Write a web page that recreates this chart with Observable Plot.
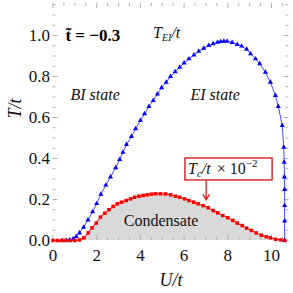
<!DOCTYPE html>
<html><head><meta charset="utf-8">
<script src="https://cdn.jsdelivr.net/npm/d3@7"></script>
<script src="https://cdn.jsdelivr.net/npm/@observablehq/plot@0.6"></script>
<style>
body{margin:0;background:#fff}
svg{display:block}
svg text{font-family:"Liberation Serif","Times New Roman",serif !important}
</style>
</head><body><div id="chart"></div>
<script>
// T_EI/t (blue triangles)
const eiU = [0.4,0.6,0.76,0.92,1.06,1.21,1.4,1.6,1.81,2.0,2.19,2.42,2.63,2.87,3.05,3.2,3.36,3.59,3.78,4.0,4.19,4.39,4.59,4.78,4.97,5.18,5.38,5.59,5.8,6.0,6.22,6.45,6.67,6.9,7.13,7.33,7.53,7.67,7.82,7.97,8.2,8.43,8.63,8.86,9.04,9.27,9.46,9.72,9.95,10.18,10.31,10.49,10.56,10.58,10.59,10.6,10.6,10.6,10.6];
const eiT = [0,0,0.003,0.008,0.02,0.037,0.065,0.10,0.14,0.18,0.226,0.27,0.31,0.355,0.395,0.43,0.468,0.507,0.545,0.585,0.618,0.654,0.683,0.714,0.745,0.772,0.80,0.823,0.845,0.866,0.886,0.905,0.923,0.938,0.951,0.96,0.967,0.97,0.972,0.972,0.966,0.956,0.948,0.933,0.911,0.886,0.862,0.821,0.772,0.707,0.654,0.561,0.455,0.382,0.31,0.249,0.17,0.095,0];
// T_c/t x 1e-2 (red squares)
const tcU = [0,0.2,0.4,0.6,0.8,1.0,1.21,1.41,1.61,1.79,1.98,2.17,2.37,2.56,2.75,2.94,3.14,3.35,3.55,3.73,3.93,4.13,4.31,4.5,4.69,4.92,5.15,5.38,5.6,5.8,6.02,6.22,6.44,6.64,6.87,7.1,7.33,7.54,7.77,8.0,8.23,8.43,8.66,8.86,9.08,9.3,9.53,9.76,9.95,10.18,10.41,10.6];
const tcT = [0,0,0,0,0,0,0.003,0.013,0.037,0.062,0.085,0.114,0.133,0.15,0.166,0.179,0.187,0.195,0.203,0.211,0.216,0.22,0.223,0.226,0.228,0.228,0.227,0.223,0.216,0.211,0.203,0.195,0.187,0.179,0.17,0.16,0.146,0.135,0.122,0.111,0.098,0.085,0.073,0.06,0.049,0.037,0.026,0.018,0.013,0.006,0.003,0];
const xTicks = [0,2,4,6,8,10];
const yTicks = [0,0.2,0.4,0.6,0.8,1.0];
const xMinor = d3.range(0, 10.8, 0.5).filter(v => !xTicks.includes(v));
const yMinor = d3.range(0, 1.16, 0.05).map(v => +v.toFixed(2)).filter(v => !yTicks.includes(v));

const ei = eiU.map((u,i) => ({U:u, T:eiT[i]}));
const tc = tcU.map((u,i) => ({U:u, T:tcT[i]}));

const W = 293, H = 293, mL = 52.5, mR = 4.5, mT = 3, mB = 53;
const pw = W - mL - mR, ph = H - mT - mB;
const FONT = '"Liberation Serif", "Times New Roman", serif';
const tickC = "#b0b0b0";

const plot = Plot.plot({
  width: W, height: H,
  marginLeft: mL, marginRight: mR, marginTop: mT, marginBottom: mB,
  style: {fontFamily: FONT, background: "#fff", color: "#111"},
  x: {domain: [0, 10.8]},
  y: {domain: [0, 1.156]},
  marks: [
    Plot.areaY(tc, {x: "U", y: "T", fill: "#d9d9d9"}),
    Plot.ruleX(xTicks, {x: d => d, stroke: tickC, insetTop: ph - 5}),
    Plot.ruleX(xMinor, {x: d => d, stroke: tickC, insetTop: ph - 3}),
    Plot.ruleX(xTicks, {x: d => d, stroke: tickC, insetBottom: ph - 5}),
    Plot.ruleX(xMinor, {x: d => d, stroke: tickC, insetBottom: ph - 3}),
    Plot.ruleY(yTicks, {y: d => d, stroke: tickC, insetRight: pw - 5}),
    Plot.ruleY(yMinor, {y: d => d, stroke: tickC, insetRight: pw - 3}),
    Plot.ruleY(yTicks, {y: d => d, stroke: tickC, insetLeft: pw - 5}),
    Plot.ruleY(yMinor, {y: d => d, stroke: tickC, insetLeft: pw - 3}),
    Plot.axisX({ticks: xTicks, tickSize: 0, tickPadding: 8, fontSize: 17, tickFormat: d => String(d), label: null}),
    Plot.axisY({ticks: yTicks, tickSize: 0, tickPadding: 3, fontSize: 17, tickFormat: d3.format(".1f"), label: null}),
    Plot.line(ei, {x: "U", y: "T", stroke: "#4a4aff", strokeWidth: 1}),
    Plot.dot(ei, {x: "U", y: "T", symbol: "triangle", r: 1.9, fill: "#0000ff", stroke: "none"}),
    Plot.line(tc, {x: "U", y: "T", stroke: "#ff0000", strokeWidth: 1}),
    Plot.dot(tc, {x: "U", y: "T", symbol: "square", r: 2, fill: "#ff0000", stroke: "none"}),
    Plot.arrow([0], {x1: 7.01, y1: 0.293, x2: 7.01, y2: 0.198, stroke: "#d42020", strokeWidth: 1.3, headLength: 7}),
    Plot.text(["t\u0303 = \u22120.3"], {x: 0.57, y: 0.971, textAnchor: "start", lineAnchor: "bottom", fontSize: 17, fontWeight: "bold", fill: "#000"}),
    Plot.text(["BI state"], {x: 0.8, y: 0.683, textAnchor: "start", lineAnchor: "bottom", fontSize: 16, fontStyle: "italic", fill: "#111"}),
    Plot.text(["EI state"], {x: 6.29, y: 0.683, textAnchor: "start", lineAnchor: "bottom", fontSize: 16, fontStyle: "italic", fill: "#111"}),
    Plot.text(["Condensate"], {x: 3.24, y: 0.073, textAnchor: "start", lineAnchor: "bottom", fontSize: 16, fill: "#111"}),
    Plot.text(["U/t"], {frameAnchor: "bottom", dy: 45, lineAnchor: "bottom", fontSize: 18, fontStyle: "italic", fill: "#111"}),
    Plot.text(["T/t"], {frameAnchor: "left", dx: -32.5, dy: -3.5, rotate: -90, lineAnchor: "bottom", fontSize: 18, fontStyle: "italic", fill: "#111"})
  ]
});

const sx = plot.scale("x"), sy = plot.scale("y");
const svg = d3.select(plot);

// T_EI/t label
const t1 = svg.append("text")
  .attr("x", sx.apply(4.6)).attr("y", sy.apply(0.985)).attr("text-anchor", "start")
  .attr("font-size", 16).attr("fill", "#111").attr("font-style", "italic");
t1.append("tspan").text("T");
t1.append("tspan").attr("font-size", 10).attr("dy", 3).text("EI");
t1.append("tspan").attr("dy", -3).text("/t");

// Boxed T_c/t x10^-2 label
const bx = sx.apply(6.06), bx2 = sx.apply(10.05), by = sy.apply(0.4), by2 = sy.apply(0.293);
svg.append("rect").attr("x", bx).attr("y", by).attr("width", bx2 - bx).attr("height", by2 - by)
  .attr("fill", "#fff").attr("stroke", "#d42020").attr("stroke-width", 1.4);
const t2 = svg.append("text")
  .attr("x", sx.apply(6.2)).attr("y", sy.apply(0.322)).attr("text-anchor", "start")
  .attr("font-size", 16).attr("fill", "#111");
t2.append("tspan").attr("font-style", "italic").text("T");
t2.append("tspan").attr("font-style", "italic").attr("font-size", 11).attr("dy", 3).text("c");
t2.append("tspan").attr("font-style", "italic").attr("dy", -3).text("/t");
t2.append("tspan").attr("dx", 6).text("\u00d7 10");
t2.append("tspan").attr("font-size", 11).attr("dy", -7).text("\u22122");

document.getElementById("chart").append(plot);
</script></body></html>
